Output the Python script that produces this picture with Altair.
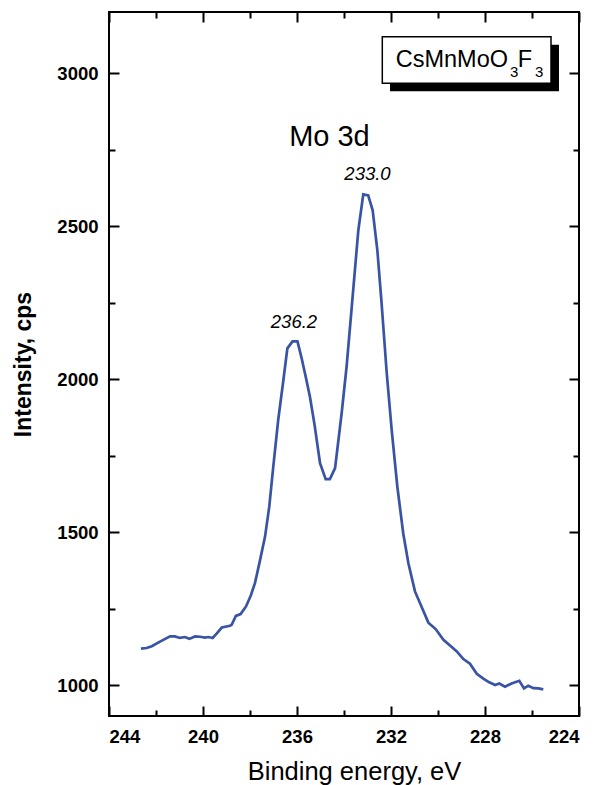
import altair as alt
import pandas as pd

# ---- data ----
energy = [242.64, 242.40, 242.18, 241.83, 241.40, 241.20, 240.98, 240.77, 240.58, 240.34,
          240.13, 239.91, 239.77, 239.59, 239.42, 239.20, 238.85, 238.78, 238.60, 238.40,
          238.17, 237.97, 237.79, 237.57, 237.36, 237.18, 237.01, 236.80, 236.58, 236.41,
          236.19, 235.98, 235.80, 235.62, 235.45, 235.25, 235.02, 234.78, 234.60, 234.38,
          234.10, 233.89, 233.67, 233.39, 233.18, 232.97, 232.78, 232.58, 232.40, 232.18,
          231.97, 231.73, 231.48, 231.26, 230.98, 230.69, 230.41, 230.10, 229.77, 229.49,
          229.20, 228.92, 228.64, 228.35, 228.07, 227.82, 227.57, 227.39, 227.15, 226.87,
          226.54, 226.34, 226.16, 225.94, 225.73, 225.52]
intensity = [1120, 1122, 1128, 1143, 1160, 1160, 1155, 1158, 1152, 1160,
             1159, 1156, 1158, 1155, 1169, 1189, 1195, 1198, 1227, 1233,
             1258, 1293, 1334, 1410, 1486, 1584, 1714, 1867, 1997, 2101,
             2124, 2124, 2068, 2005, 1943, 1850, 1726, 1674, 1674, 1710,
             1889, 2041, 2237, 2487, 2604, 2601, 2552, 2421, 2248, 2019,
             1834, 1649, 1497, 1399, 1307, 1255, 1205, 1184, 1149, 1130,
             1111, 1086, 1071, 1038, 1022, 1010, 1001, 1006, 996, 1006,
             1015, 990, 999, 991, 990, 987]

x_major = [244, 240, 236, 232, 228, 224]
x_minor = [242, 238, 234, 230, 226]
y_major = [1000, 1500, 2000, 2500, 3000]
y_minor = [1250, 1750, 2250, 2750]

peak_labels = ["236.2", "233.0"]
peak_energy = [236.13, 233.0]
peak_label_level = [2169, 2650]

title_label = ["Mo 3d"]
title_energy = [234.62]
title_level = [2761]

FONT = "Liberation Sans"
W, H = 470, 704

df = pd.DataFrame({"e": energy, "i": intensity})
peaks = pd.DataFrame({"t": peak_labels, "e": peak_energy, "i": peak_label_level})
head = pd.DataFrame({"t": title_label, "e": title_energy, "i": title_level})
one = pd.DataFrame({"k": [0]})

xscale = alt.Scale(domain=[224, 244], reverse=True, nice=False, zero=False)
yscale = alt.Scale(domain=[900, 3200], nice=False, zero=False)

line = alt.Chart(df).mark_line(color="#3953A5", strokeWidth=2.7).encode(
    x=alt.X("e:Q", scale=xscale, axis=alt.Axis(
        orient="bottom", values=x_major, format="d", ticks=False, tickSize=0,
        domain=False, grid=False, labelFont=FONT, labelFontSize=18.5,
        labelFontWeight="bold", labelColor="black", labelPadding=11,
        title="Binding energy, eV", titleFont=FONT, titleFontSize=25.5,
        titleFontWeight="normal", titleColor="black", titleX=245, titleY=63,
        titleAlign="center", titleBaseline="alphabetic")),
    y=alt.Y("i:Q", scale=yscale, axis=alt.Axis(
        orient="left", values=y_major, format="d", ticks=False, tickSize=0,
        domain=False, grid=False, labelFont=FONT, labelFontSize=18.5,
        labelFontWeight="bold", labelColor="black", labelPadding=11,
        title="Intensity, cps", titleFont=FONT, titleFontSize=23,
        titleFontWeight="bold", titleColor="black", titleX=-79, titleY=352,
        titleAngle=270, titleAlign="center", titleBaseline="alphabetic")),
)


def xtick_layer(orient, values, size):
    # axis moved onto the opposite edge, so its ticks point into the plot
    return alt.Chart(df).mark_line(opacity=0).encode(
        x=alt.X("e:Q", scale=xscale, axis=alt.Axis(
            orient=orient, offset=-H, values=values, labels=False, domain=False,
            grid=False, title=None, ticks=True, tickSize=size, tickWidth=2,
            tickColor="black")),
        y=alt.Y("i:Q", scale=yscale, axis=None),
    )


def ytick_layer(orient, values, size):
    return alt.Chart(df).mark_line(opacity=0).encode(
        x=alt.X("e:Q", scale=xscale, axis=None),
        y=alt.Y("i:Q", scale=yscale, axis=alt.Axis(
            orient=orient, offset=-W, values=values, labels=False, domain=False,
            grid=False, title=None, ticks=True, tickSize=size, tickWidth=2,
            tickColor="black")),
    )


peak_text = alt.Chart(peaks).mark_text(
    font=FONT, fontSize=18.5, fontStyle="italic", color="black",
    align="center", baseline="alphabetic").encode(
    x=alt.X("e:Q", scale=xscale, axis=None),
    y=alt.Y("i:Q", scale=yscale, axis=None), text="t:N")

head_text = alt.Chart(head).mark_text(
    font=FONT, fontSize=29, color="black", align="center",
    baseline="alphabetic").encode(
    x=alt.X("e:Q", scale=xscale, axis=None),
    y=alt.Y("i:Q", scale=yscale, axis=None), text="t:N")

# legend box with drop shadow
shadow = alt.Chart(one).mark_rect(color="black").encode(
    x=alt.value(281), x2=alt.value(450), y=alt.value(32.7), y2=alt.value(79.3))
box = alt.Chart(one).mark_rect(fill="white", stroke="black", strokeWidth=1.5).encode(
    x=alt.value(273.3), x2=alt.value(442), y=alt.value(24.7), y2=alt.value(71.3))


def piece(txt, px, py, size):
    return alt.Chart(one).mark_text(
        font=FONT, fontSize=size, color="black", align="left",
        baseline="alphabetic").encode(
        x=alt.value(px), y=alt.value(py), text=alt.value(txt))


legend_parts = [
    piece("CsMnMoO", 286.7, 54.7, 23.5),
    piece("3", 401, 64.7, 15),
    piece("F", 408.7, 54.7, 23.5),
    piece("3", 426, 64.7, 15),
]

chart = alt.layer(
    line,
    xtick_layer("top", x_major, 10),
    xtick_layer("top", x_minor, 6),
    xtick_layer("bottom", x_major, 10),
    xtick_layer("bottom", x_minor, 6),
    ytick_layer("right", y_major, 10),
    ytick_layer("right", y_minor, 6),
    ytick_layer("left", y_major, 10),
    ytick_layer("left", y_minor, 6),
    peak_text,
    head_text,
    shadow,
    box,
    *legend_parts,
).resolve_axis(x="independent", y="independent").properties(
    width=W, height=H,
    autosize=alt.AutoSizeParams(type="none"),
    padding={"left": 109, "top": 12, "right": 21, "bottom": 69},
    background="white",
).configure_view(stroke="black", strokeWidth=2)

chart.save("out.html", embed_options={"renderer": "svg", "actions": False})
